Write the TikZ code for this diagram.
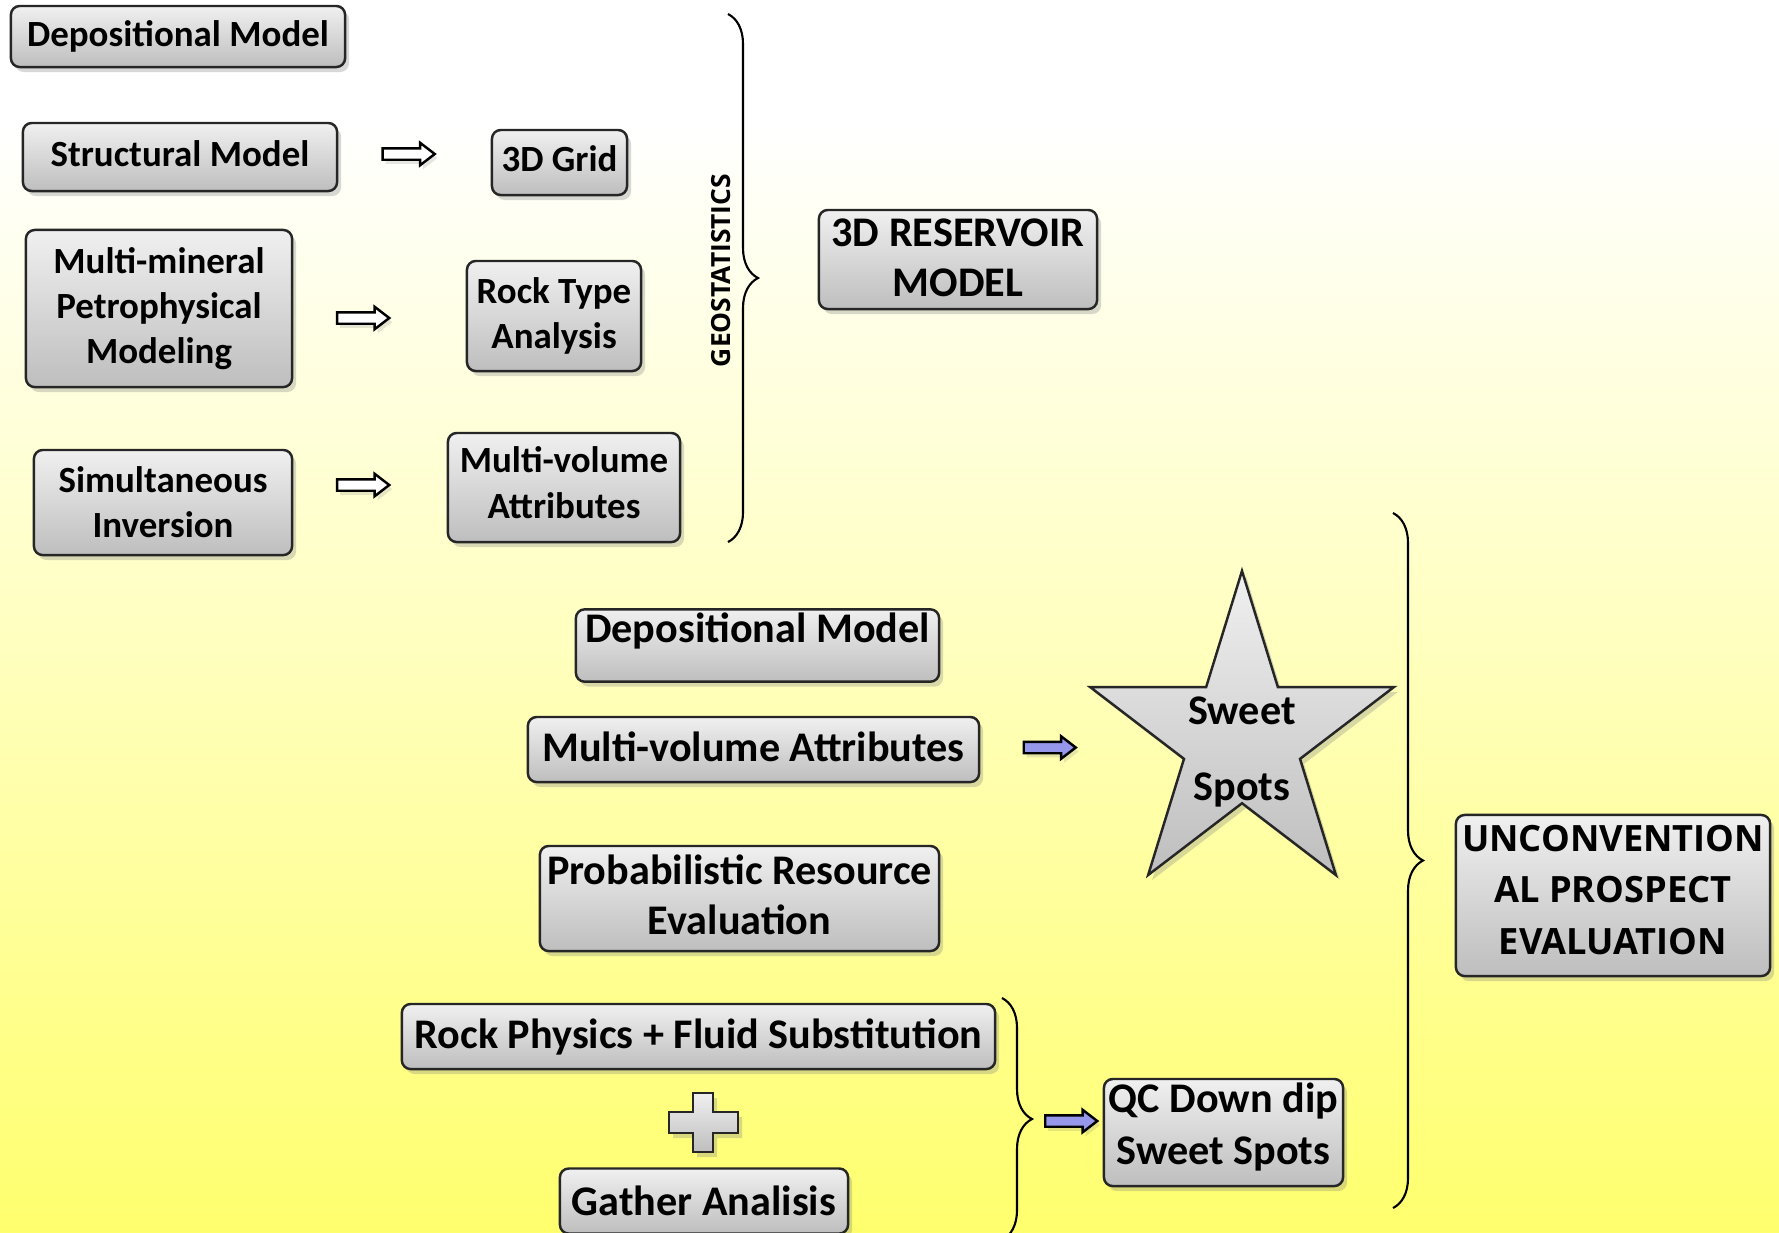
\documentclass[tikz,border=0pt]{standalone}
\usepackage{fontspec}
\setmainfont{Carlito}
\newfontfamily\capfont{Open Sans}
\usepackage{tikz}
\usetikzlibrary{positioning,calc,shapes.geometric,shapes.arrows,shadows,decorations.pathreplacing}

\pgfdeclareverticalshading{bgshade}{100bp}{rgb(0bp)=(1,1,0.43); rgb(25bp)=(1,1,0.43); rgb(49bp)=(1,1,0.75); rgb(60bp)=(1,1,0.88); rgb(70bp)=(1,1,1); rgb(100bp)=(1,1,1)}
\definecolor{boxtop}{RGB}{240,240,240}
\definecolor{boxbottom}{RGB}{190,190,190}
\definecolor{arrowblue}{RGB}{150,150,235}

\begin{document}
\begin{tikzpicture}[
  x=0.01cm, y=-0.01cm,
  box/.style={draw=black!85, line width=0.7pt, rounded corners=2.5pt,
    top color=boxtop, bottom color=boxbottom, align=center, inner sep=1pt,
    drop shadow={opacity=0.3, shadow xshift=0.04cm, shadow yshift=-0.05cm}},
  smalltext/.style={font=\fontsize{10.5}{12.8}\selectfont\bfseries},
  bigtext/.style={font=\fontsize{12}{14.2}\selectfont\bfseries},
  captext/.style={font=\capfont\fontsize{10.3}{14.6}\selectfont\bfseries},
  hollowarrow/.style={single arrow, draw=black, line width=0.7pt, fill=white,
    minimum height=0.52cm, minimum width=0.22cm, inner xsep=0pt, inner ysep=0.045cm,
    single arrow head extend=0.055cm, single arrow tip angle=75,
    drop shadow={opacity=0.2, shadow xshift=0.03cm, shadow yshift=-0.04cm}},
  bluearrow/.style={hollowarrow, fill=arrowblue},
  sweetstar/.style={star, star points=5, star point ratio=2.618,
    minimum size=3.36cm, inner sep=0pt, draw=black!85, line width=0.7pt,
    top color=boxtop, bottom color=boxbottom,
    drop shadow={opacity=0.3, shadow xshift=0.04cm, shadow yshift=-0.05cm}},
  plusshape/.style={draw=black!85, line width=0.7pt,
    top color=boxtop, bottom color=boxbottom,
    drop shadow={opacity=0.3, shadow xshift=0.04cm, shadow yshift=-0.05cm}},
  bracket/.style={decorate, decoration={brace, amplitude=0.3cm}, line width=0.6pt},
  ]

% Background
\useasboundingbox (0,0) rectangle (1779,1232);
\shade[shading=bgshade] (0,0) rectangle (1779,1232);

% Geostatistics inputs
\node[box, smalltext, minimum width=3.34cm, minimum height=0.61cm] (depA) at (178,36.5) {Depositional Model};
\node[box, smalltext, minimum width=3.14cm, minimum height=0.68cm, text depth=0.06cm] (struct) at (180,157) {Structural Model};
\node[box, smalltext, minimum width=1.35cm, minimum height=0.65cm, text depth=0.08cm] (grid) at (559.5,162.5) {3D Grid};
\node[box, smalltext, minimum width=2.66cm, minimum height=1.57cm] (petro) at (159,308.5) {Multi-mineral\\Petrophysical\\Modeling};
\node[box, smalltext, minimum width=1.74cm, minimum height=1.10cm] (rocktype) at (554,316) {Rock Type\\Analysis};
\node[box, smalltext, minimum width=2.58cm, minimum height=1.05cm] (simult) at (163,502.5) {Simultaneous\\Inversion};
\node[box, smalltext, minimum width=2.32cm, minimum height=1.09cm, text depth=0.1cm] (mvolA) at (564,487.5) {Multi-volume\\Attributes};

% Arrows
\node[hollowarrow] (arrA) at (405,154) {};
\node[hollowarrow] (arrB) at (359.5,318) {};
\node[hollowarrow] (arrC) at (359.5,485) {};

% Geostatistics brace
\draw[bracket] (728,14) -- (728,542);
\node[rotate=90, font=\capfont\fontsize{7.5}{9}\selectfont\bfseries] (geo) at (721,270.5) {GEOSTATISTICS};
\node[box, bigtext, minimum width=2.78cm, minimum height=0.99cm, text depth=0.04cm] (reservoir) at (958,259.5) {3D RESERVOIR\\MODEL};

% Prospect evaluation
\node[box, bigtext, minimum width=3.63cm, minimum height=0.65cm] (depB) at (757.5,645.5) {\raisebox{0pt}[\height][\dimexpr\depth+0.29cm\relax]{Depositional Model}};
\node[box, bigtext, minimum width=4.51cm, minimum height=0.65cm, text depth=0.06cm] (mvolB) at (753.5,749.5) {Multi-volume Attributes};
\node[box, bigtext, minimum width=3.99cm, minimum height=1.05cm, text depth=0.07cm] (prob) at (739.5,898.5) {Probabilistic Resource\\Evaluation};
\node[box, bigtext, minimum width=5.93cm, minimum height=0.65cm] (rockphys) at (698.5,1036.5) {Rock Physics + Fluid Substitution};
\node[box, bigtext, minimum width=2.88cm, minimum height=0.65cm] (gather) at (704,1201) {Gather Analisis};
\path[plusshape] (693,1093) -- (713,1093) -- (713,1112) -- (738,1112) -- (738,1133) -- (713,1133)
  -- (713,1152) -- (693,1152) -- (693,1133) -- (669,1133) -- (669,1112) -- (693,1112) -- cycle;

\begin{scope}[shift={(1242,739)}, xscale=0.95]
  \node[sweetstar, transform shape] (sweet) at (0,0) {};
\end{scope}
\node[align=center, font=\fontsize{12}{21.6}\selectfont\bfseries] (sweettext) at ([yshift=-0.13cm]sweet.center) {Sweet\\Spots};
\node[box, bigtext, minimum width=2.39cm, minimum height=1.07cm, font=\fontsize{12}{14.8}\selectfont\bfseries, text depth=0.17cm] (qc) at (1223.5,1132.5) {QC Down dip\\Sweet Spots};

\node[bluearrow] (arrD) at (1046,747.5) {};
\node[bluearrow] (arrE) at (1067.5,1121) {};

\draw[bracket] (1002,998) -- (1002,1240);
\draw[bracket] (1393,513) -- (1393,1208);
\node[box, captext, minimum width=3.14cm, minimum height=1.61cm, text depth=0.12cm] (unconv) at (1613,895.5) {UNCONVENTION\\AL PROSPECT\\EVALUATION};

\end{tikzpicture}
\end{document}
